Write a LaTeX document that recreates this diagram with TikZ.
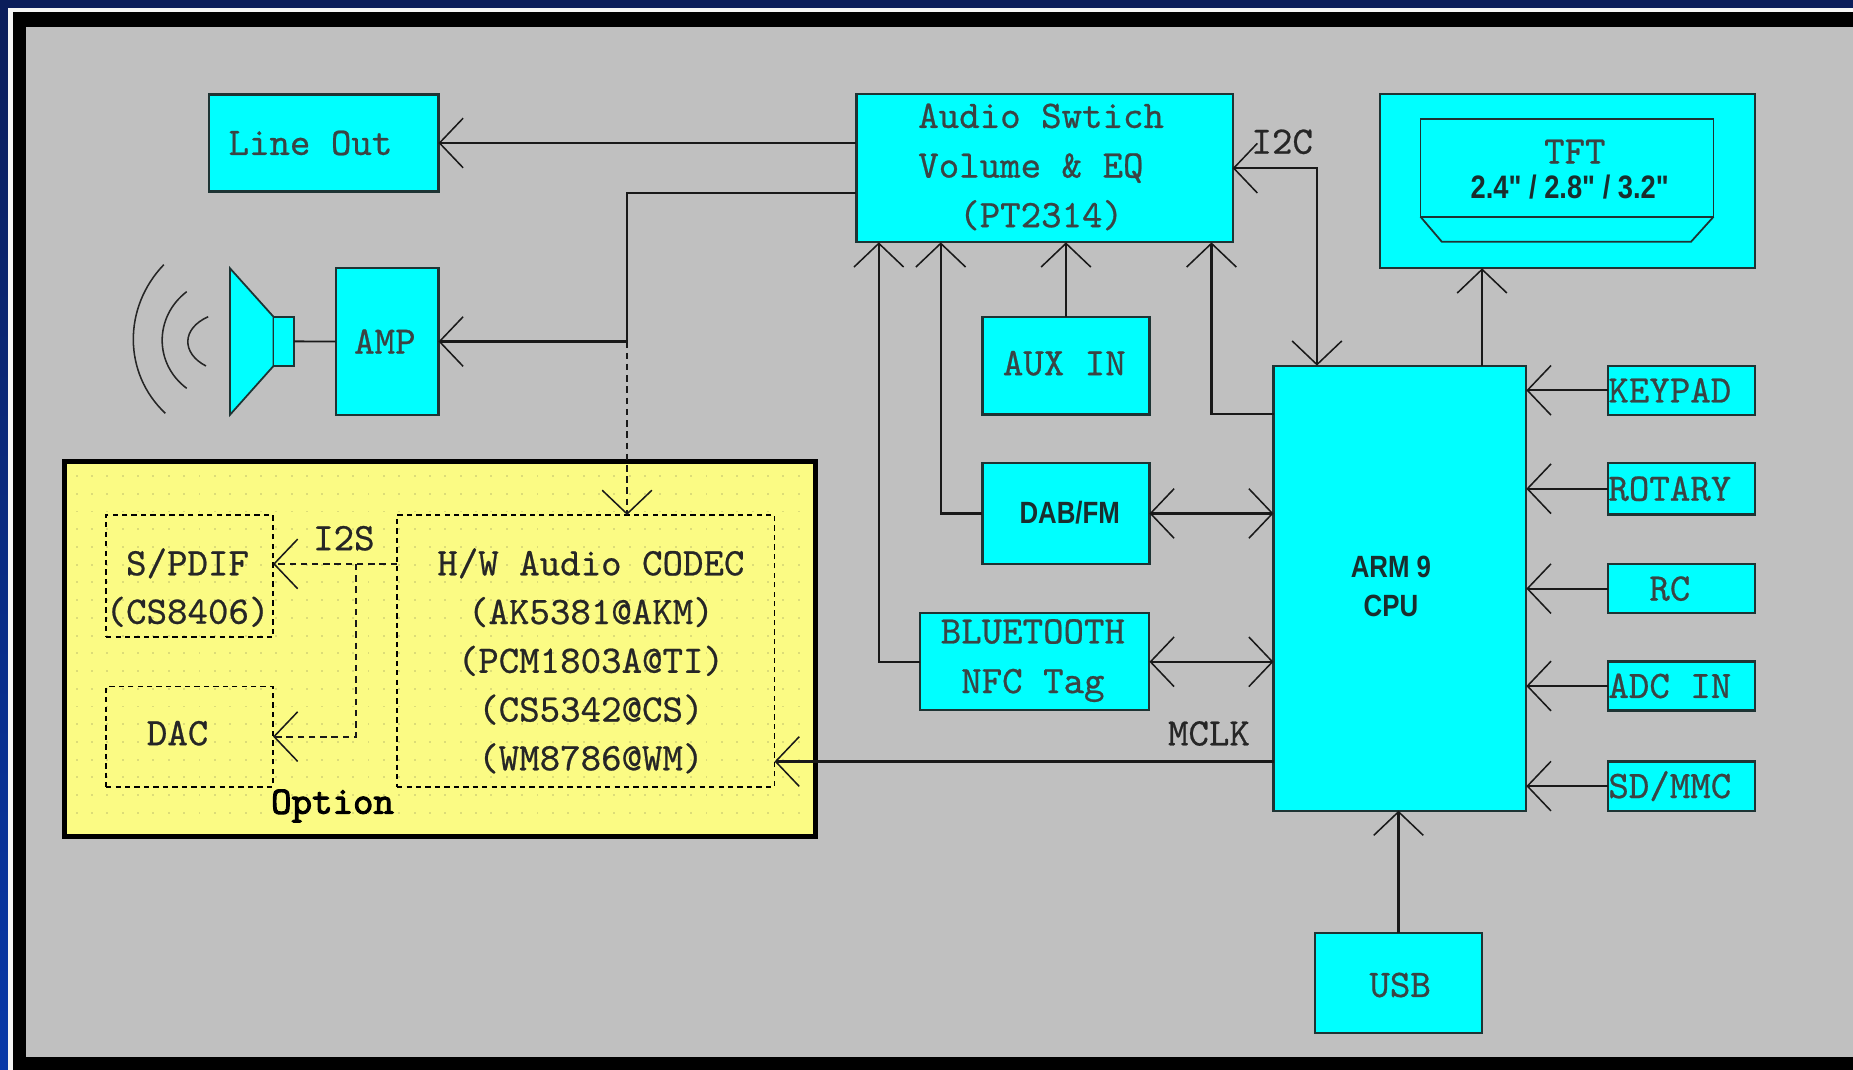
\documentclass[tikz,border=0pt]{standalone}
\usepackage{fontspec}
\newfontfamily\narrowsans[FakeStretch=0.84]{Liberation Sans}
\newfontfamily\monoface[FakeBold=0.6]{lmmono10-regular.otf}
\newfontfamily\monoboldface[FakeBold=2.4]{lmmono10-regular.otf}
\usetikzlibrary{arrows.meta}
\definecolor{navy}{HTML}{0B1D5A}
\definecolor{navyb}{HTML}{0838A8}
\definecolor{bggray}{HTML}{C0C0C0}
\definecolor{boxcyan}{HTML}{00FFFF}
\definecolor{boxline}{HTML}{1E3434}
\definecolor{monotext}{HTML}{3A4444}
\definecolor{boldtext}{HTML}{1A2E2E}
\definecolor{optyellow}{HTML}{FBFB84}
\definecolor{optdot}{HTML}{DCDC78}
\newcommand{\monof}{\monoface\fontsize{33}{42}\selectfont}
\newcommand{\bsansf}{\narrowsans\bfseries\fontsize{26}{32.7}\selectfont}
\begin{document}
\begin{tikzpicture}[x=1pt,y=-1pt,
  box/.style={draw=boxline, line width=1.8pt, fill=boxcyan, inner sep=0pt, outer sep=0pt},
  dbox/.style={draw=black, line width=1.6pt, dash pattern=on 4.5pt off 3.5pt, inner sep=0pt, outer sep=0pt},
  mono/.style={font=\monof, text=monotext, inner sep=0pt, align=center},
  monok/.style={font=\monof, text=black!85, inner sep=0pt, align=center},
  bsans/.style={font=\bsansf, text=boldtext, inner sep=0pt, align=center},
  conn/.style={line width=1.9pt, draw=black!90},
  arr/.style={conn, -{Straight Barb[length=20pt,width=42pt,line width=1.3pt]}},
  darr/.style={conn, {Straight Barb[length=20pt,width=42pt,line width=1.3pt]}-{Straight Barb[length=20pt,width=42pt,line width=1.3pt]}},
  dsh/.style={dash pattern=on 5.5pt off 4pt, line width=1.6pt}
]
\useasboundingbox (0,0) rectangle (1568,905);
% frame
\fill[navy] (0,0) rectangle (1568,905);
\shade[top color=navy, bottom color=navyb] (0,0) rectangle (6.8,905);
\fill[white!92!gray] (6.8,6.8) rectangle (1568,905);
\fill[black] (11,10.5) rectangle (1568,905);
\fill[bggray] (22,22.8) rectangle (1568,894.4);

% option area
\node[draw=black, line width=4pt, fill=optyellow, minimum width=635.5pt, minimum height=317.3pt, inner sep=0pt] (option) at (372.2,549.4) {};
\foreach \yy in {402,417,...,700} {
  \foreach \xx in {64,77,...,682} {
    \fill[optdot] (\xx,\yy) rectangle ++(1.6,1.6);
  }
}

% boxes
\node[box, minimum width=194pt, minimum height=82pt] (lineout) at (274,121) {};
\node[box, minimum width=318.3pt, minimum height=125.5pt] (audio) at (883.9,142.3) {};
\node[box, minimum width=317.8pt, minimum height=147.5pt] (tft) at (1326.4,153.3) {};
\node[box, minimum width=87pt, minimum height=124pt] (amp) at (327.5,289) {};
\node[box, minimum width=141.3pt, minimum height=82.7pt] (aux) at (902,309.4) {};
\node[box, minimum width=213.9pt, minimum height=376.6pt] (cpu) at (1184.6,497.7) {};
\node[box, minimum width=124.7pt, minimum height=41.8pt] (kp) at (1423,330.3) {};
\node[box, minimum width=124.7pt, minimum height=43.6pt] (rot) at (1423,413.6) {};
\node[box, minimum width=124.7pt, minimum height=41.6pt] (rc) at (1423,498.1) {};
\node[box, minimum width=124.7pt, minimum height=41.5pt] (adc) at (1423,580.5) {};
\node[box, minimum width=124.7pt, minimum height=41.6pt] (sd) at (1423,665.2) {};
\node[box, minimum width=141.3pt, minimum height=85.5pt] (dab) at (902,434.5) {};
\node[box, minimum width=193.8pt, minimum height=82.3pt] (bt) at (875.7,560) {};
\node[box, minimum width=141.3pt, minimum height=84.7pt] (usb) at (1183.4,832) {};
\node[dbox, minimum width=141.2pt, minimum height=103.5pt] (spdif) at (160.4,487.5) {};
\node[dbox, minimum width=141.2pt, minimum height=84.7pt] (dac) at (160.4,623.3) {};
\node[dbox, minimum width=319.4pt, minimum height=229.9pt] (codec) at (495.7,550.7) {};

% TFT inner screen
\draw[boxline, line width=1.5pt] (1202,101) rectangle (1450,183.4);
\draw[boxline, line width=1.5pt] (1202,183.4) -- (1220,204.5) -- (1431,204.5) -- (1450,183.4);

% speaker
\filldraw[fill=boxcyan, draw=boxline, line width=1.5pt] (194.6,227) -- (231.4,268) -- (231.4,309.7) -- (194.6,351) -- cycle;
\node[box, line width=1.5pt, minimum width=17.3pt, minimum height=41.7pt] (spk) at (240,288.9) {};
\draw[black!85, line width=1.3pt] (138.6,224) .. controls (104,260) and (104,316) .. (139.9,349.7);
\draw[black!85, line width=1.3pt] (158,246.8) .. controls (130.3,268) and (130.3,308) .. (158,328.6);
\draw[black!85, line width=1.3pt] (176.2,268) .. controls (153.5,278) and (153.5,299) .. (174.3,309.7);

% texts
\node[mono] (tlineout) at (262.7,121) {Line Out};
\node[mono, align=left] (taudio) at (881,141.3) {Audio Swtich\\Volume \& EQ\\\hphantom{xx}(PT2314)};
\node[mono] (ttft) at (1332.6,128.3) {TFT};
\node[font=\narrowsans\bfseries\fontsize{27.5}{30}\selectfont, text=boldtext, inner sep=0pt] (tsize) at (1328.3,158) {2.4" / 2.8" / 3.2"};
\node[mono] (tamp) at (325.7,289) {AMP};
\node[mono] (taux) at (900.6,307.4) {AUX IN};
\node[mono] (tkp) at (1413,330.3) {KEYPAD};
\node[mono] (trot) at (1413,413.6) {ROTARY};
\node[mono] (trc) at (1413,498.1) {RC};
\node[mono] (tadc) at (1413,580.5) {ADC IN};
\node[mono] (tsd) at (1413,665.2) {SD/MMC};
\node[bsans] (tdab) at (905.2,434) {DAB/FM};
\node[mono] (tbt) at (874,559) {BLUETOOTH\\NFC Tag};
\node[mono] (tusb) at (1184.8,833.5) {USB};
\node[bsans] (tcpu) at (1177,496) {ARM 9\\CPU};
\node[monok, font=\monoface\fontsize{33}{41}\selectfont] (tspdif) at (158.7,497.2) {S/PDIF\\(CS8406)};
\node[monok] (tdac) at (150.3,620.5) {DAC};
\node[monok, font=\monoface\fontsize{33}{41.25}\selectfont] (tcodec) at (500,559.2) {H/W Audio CODEC\\(AK5381@AKM)\\(PCM1803A@TI)\\(CS5342@CS)\\(WM8786@WM)};
\node[monok, font=\monoboldface\fontsize{33}{40}\selectfont, text=black] (topt) at (281.4,682) {Option};
\node[monok] (ti2s) at (291,455.5) {I2S};
\node[monok] (ti2c) at (1085,120) {I2C};
\node[monok] (tmclk) at (1023,620.7) {MCLK};

% connectors
\draw[arr] (lineout.east -| audio.west) -- (lineout.east);
\coordinate (jn) at (530.6,289);
\draw[arr] ([yshift=-21pt]audio.west) -| (jn) -- (amp.east);
\draw[arr, dsh] (jn) -- (jn |- codec.north);
\draw[conn, line width=1.6pt] (spk.east) -- (amp.west);
\coordinate (i2cx) at (1114.4,142.3);
\draw[darr] (audio.east) -- (i2cx) -- (i2cx |- cpu.north);
\draw[arr] (aux.north) -- (aux.north |- audio.south);
\draw[arr] (dab.west) -| ([xshift=71.3pt]audio.south west);
\draw[arr] (bt.west) -| ([xshift=18.9pt]audio.south west);
\draw[arr] ([yshift=-41.2pt]cpu.north west) -| ([xshift=-17.9pt]audio.south east);
\draw[darr] (dab.east) -- (dab.east -| cpu.west);
\draw[darr] (bt.east) -- (bt.east -| cpu.west);
\coordinate (mclk) at ([yshift=41.6pt]cpu.south west);
\draw[arr] (mclk) -- (mclk -| codec.east);
\draw[arr] (kp.west) -- (kp.west -| cpu.east);
\draw[arr] (rot.west) -- (rot.west -| cpu.east);
\draw[arr] (rc.west) -- (rc.west -| cpu.east);
\draw[arr] (adc.west) -- (adc.west -| cpu.east);
\draw[arr] (sd.west) -- (sd.west -| cpu.east);
\coordinate (tfto) at ([xshift=69.5pt]cpu.north);
\draw[arr] (tfto) -- (tfto |- tft.south);
\draw[arr] (usb.north) -- (usb.north |- cpu.south);
\coordinate (i2s) at ([yshift=73.5pt]codec.west);
\draw[arr, dsh] (i2s) -- (i2s -| spdif.east);
\coordinate (br) at ([xshift=-34.7pt]i2s);
\draw[arr, dsh] (br) |- (dac.east);
\end{tikzpicture}
\end{document}
